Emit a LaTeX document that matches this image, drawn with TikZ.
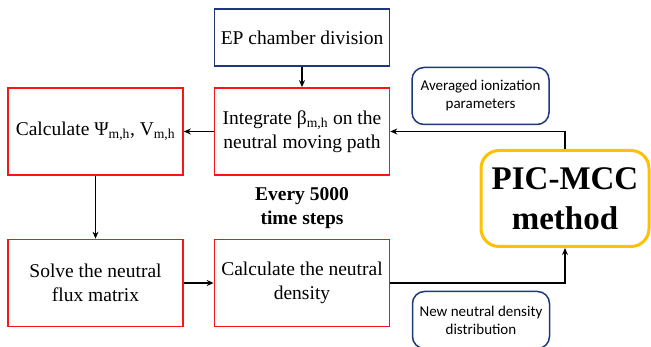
\documentclass[tikz,border=0pt]{standalone}
\usepackage{fontspec}
\setmainfont{Liberation Serif}
\newfontfamily\cali{Carlito}
\usepackage{xcolor}
\usetikzlibrary{arrows.meta}
\definecolor{boxred}{RGB}{250,20,20}
\definecolor{navy}{RGB}{30,55,125}
\definecolor{picgold}{RGB}{255,192,0}

\begin{document}
\begin{tikzpicture}[x=1pt,y=-1pt,>={Stealth[length=7pt,width=6pt]},
  redbox/.style={draw=boxred,line width=1.7pt,minimum width=175pt,minimum height=87pt,align=center,inner sep=2pt,font=\fontsize{19.5}{24}\selectfont},
  bluebox/.style={draw=navy,line width=1.6pt,minimum width=175pt,minimum height=57pt,align=center,font=\fontsize{19.5}{24}\selectfont},
  notebox/.style={draw=navy,line width=1.5pt,rounded corners=12pt,minimum width=137pt,minimum height=57pt,align=center,font=\cali\fontsize{15}{18}\selectfont},
  picbox/.style={draw=picgold,line width=3pt,rounded corners=18pt,minimum width=168pt,minimum height=96pt,align=center,font=\bfseries\fontsize{33}{40}\selectfont},
  flow/.style={->,line width=1.5pt}]
\useasboundingbox (0,0) rectangle (651,347);
% main steps
\node[bluebox](ep) at (302,37.5){EP chamber division};
\node[redbox](integ) at (302,131.5){Integrate β\textsubscript{m,h} on the\\neutral moving path};
\node[redbox](calc) at (95.5,131.5){Calculate Ψ\textsubscript{m,h}, V\textsubscript{m,h}};
\node[redbox](solve) at (95.5,283){Solve the neutral\\flux matrix};
\node[redbox](dens) at (302,283){Calculate the neutral\\density};
\node[align=center,font=\bfseries\fontsize{19.5}{24}\selectfont](every) at (302,208){Every 5000\\time steps};
% PIC-MCC side
\node[picbox](pic) at (565,198.5){PIC-MCC\\method};
\node[notebox](avg) at (480.5,96){Averaged ionization\\parameters};
\node[notebox](newd) at (481,320){New neutral density\\distribution};
% connectors
\draw[flow](ep)--(integ);
\draw[flow](integ)--(calc);
\draw[flow](calc)--(solve);
\draw[flow](solve)--(dens);
\draw[flow](dens.east)-|(pic.south);
\draw[flow](pic.north)|-(integ.east);
\end{tikzpicture}
\end{document}
